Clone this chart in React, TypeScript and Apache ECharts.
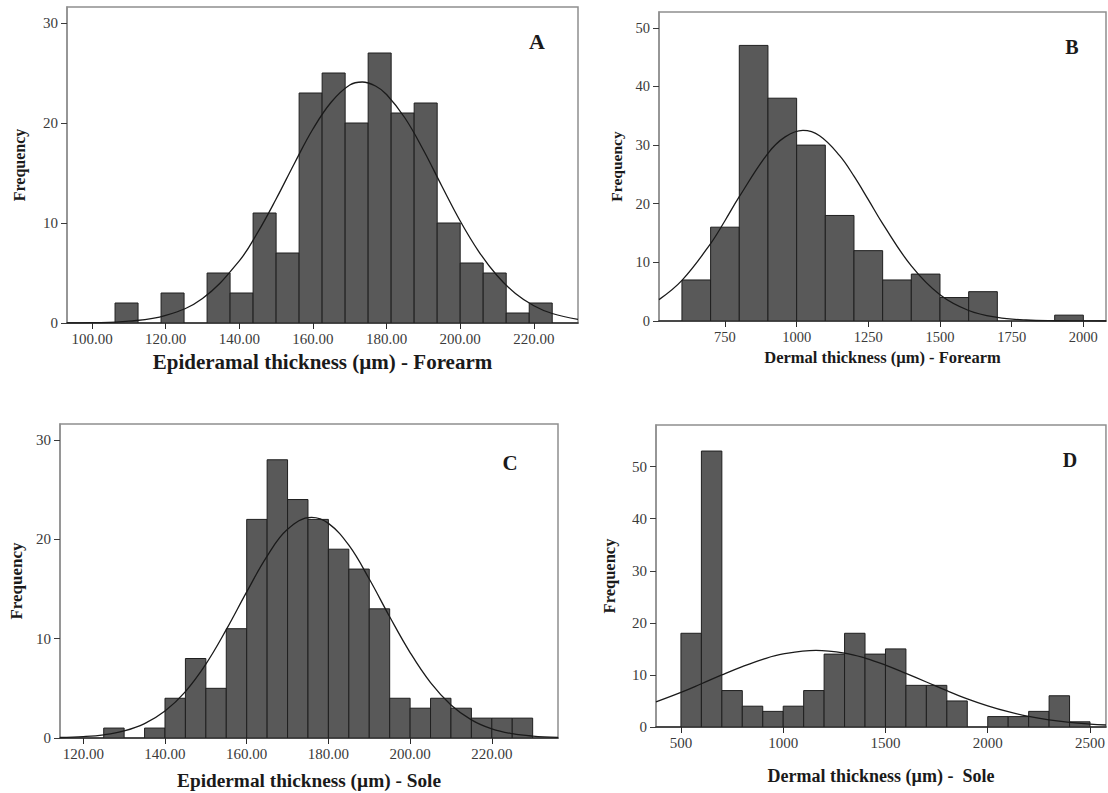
import React, { useEffect, useRef } from "react";
import * as echarts from "echarts";

// ---------- Panel A : Epidermal thickness - Forearm ----------
const aBinStarts = [106.25, 112.5, 118.75, 125, 131.25, 137.5, 143.75, 150, 156.25, 162.5, 168.75, 175, 181.25, 187.5, 193.75, 200, 206.25, 212.5, 218.75];
const aCounts = [2, 0, 3, 0, 5, 3, 11, 7, 23, 25, 20, 27, 21, 22, 10, 6, 5, 1, 2];
const aBinWidth = 6.25;
const aCurveX = [93.2, 100, 110, 120, 130, 140, 145, 150, 155, 160, 165, 170, 173.4, 177, 180, 185, 190, 195, 200, 205, 210, 215, 220, 225, 232];
const aCurveY = [0.01, 0.03, 0.18, 0.76, 2.45, 6.22, 9.06, 12.4, 15.98, 19.4, 22.1, 23.8, 24.1, 23.7, 22.85, 20.5, 17.3, 13.7, 10.2, 7.17, 4.75, 2.95, 1.73, 0.95, 0.37];
const aXTicks = [100, 120, 140, 160, 180, 200, 220];
const aYTicks = [0, 10, 20, 30];

// ---------- Panel B : Dermal thickness - Forearm ----------
const bBinStarts = [600, 700, 800, 900, 1000, 1100, 1200, 1300, 1400, 1500, 1600, 1700, 1800, 1900];
const bCounts = [7, 16, 47, 38, 30, 18, 12, 7, 8, 4, 5, 0, 0, 1];
const bBinWidth = 100;
const bCurveX = [520, 600, 700, 750, 800, 900, 960, 1022, 1080, 1150, 1200, 1250, 1300, 1400, 1500, 1600, 1700, 1800, 1900, 2000, 2079];
const bCurveY = [3.65, 6.93, 13.2, 17.1, 21.2, 28.6, 31.4, 32.5, 31.6, 28.2, 24.7, 20.7, 16.6, 9.4, 4.47, 1.79, 0.6, 0.17, 0.04, 0.01, 0.0];
const bXTicks = [750, 1000, 1250, 1500, 1750, 2000];
const bYTicks = [0, 10, 20, 30, 40, 50];

// ---------- Panel C : Epidermal thickness - Sole ----------
const cBinStarts = [125, 130, 135, 140, 145, 150, 155, 160, 165, 170, 175, 180, 185, 190, 195, 200, 205, 210, 215, 220, 225];
const cCounts = [1, 0, 1, 4, 8, 5, 11, 22, 28, 24, 22, 19, 17, 13, 4, 3, 4, 3, 2, 2, 2];
const cBinWidth = 5;
const cCurveX = [114.3, 120, 125, 130, 135, 140, 145, 150, 155, 160, 165, 170, 175.9, 180, 185, 190, 195, 200, 205, 210, 215, 220, 225, 230, 236.2];
const cCurveY = [0.05, 0.14, 0.32, 0.71, 1.45, 2.71, 4.67, 7.43, 10.9, 14.7, 18.3, 21.0, 22.2, 21.6, 19.4, 16.0, 12.2, 8.6, 5.57, 3.33, 1.83, 0.92, 0.43, 0.19, 0.06];
const cXTicks = [120, 140, 160, 180, 200, 220];
const cYTicks = [0, 10, 20, 30];

// ---------- Panel D : Dermal thickness - Sole ----------
const dBinStarts = [500, 600, 700, 800, 900, 1000, 1100, 1200, 1300, 1400, 1500, 1600, 1700, 1800, 1900, 2000, 2100, 2200, 2300, 2400];
const dCounts = [18, 53, 7, 4, 3, 4, 7, 14, 18, 14, 15, 8, 8, 5, 0, 2, 2, 3, 6, 1];
const dBinWidth = 100;
const dCurveX = [378, 500, 600, 700, 800, 900, 1000, 1160, 1300, 1400, 1500, 1600, 1700, 1800, 1900, 2000, 2100, 2200, 2300, 2400, 2500, 2578];
const dCurveY = [4.83, 6.65, 8.31, 10.0, 11.6, 13.0, 14.03, 14.7, 14.19, 13.24, 11.9, 10.3, 8.64, 6.97, 5.42, 4.07, 2.94, 2.05, 1.38, 0.89, 0.56, 0.38];
const dXTicks = [500, 1000, 1500, 2000, 2500];
const dYTicks = [0, 10, 20, 30, 40, 50];

const FONT = "'Liberation Serif', 'Times New Roman', serif";

type Panel = {
  letter: string;
  xName: string;
  grid: { left: number; top: number; width: number; height: number };
  xMin: number; xMax: number; yMax: number;
  xTicks: number[]; yTicks: number[]; decimals: number;
  binStarts: number[]; counts: number[]; binWidth: number;
  curveX: number[]; curveY: number[];
  tickFont: number; nameFont: number; nameGap: number;
  yNameFont: number; yNameGap: number;
  letterPos: [number, number]; letterFont: number;
};

const panels: Panel[] = [
  {
    letter: "A", xName: "Epideramal thickness (µm) - Forearm",
    grid: { left: 67, top: 7, width: 511, height: 316 },
    xMin: 93.2, xMax: 232, yMax: 31.6, xTicks: aXTicks, yTicks: aYTicks, decimals: 2,
    binStarts: aBinStarts, counts: aCounts, binWidth: aBinWidth, curveX: aCurveX, curveY: aCurveY,
    tickFont: 15, nameFont: 21, nameGap: 28, yNameFont: 16, yNameGap: 40,
    letterPos: [537, 41], letterFont: 22,
  },
  {
    letter: "B", xName: "Dermal thickness (µm) - Forearm",
    grid: { left: 659, top: 12, width: 447, height: 309 },
    xMin: 520, xMax: 2079, yMax: 52.7, xTicks: bXTicks, yTicks: bYTicks, decimals: 0,
    binStarts: bBinStarts, counts: bCounts, binWidth: bBinWidth, curveX: bCurveX, curveY: bCurveY,
    tickFont: 14.5, nameFont: 16.5, nameGap: 28, yNameFont: 15.5, yNameGap: 35,
    letterPos: [1072, 47], letterFont: 20,
  },
  {
    letter: "C", xName: "Epidermal thickness (µm) - Sole",
    grid: { left: 60, top: 424, width: 498, height: 314 },
    xMin: 114.3, xMax: 236.2, yMax: 31.6, xTicks: cXTicks, yTicks: cYTicks, decimals: 2,
    binStarts: cBinStarts, counts: cCounts, binWidth: cBinWidth, curveX: cCurveX, curveY: cCurveY,
    tickFont: 15, nameFont: 19.3, nameGap: 33, yNameFont: 17, yNameGap: 35,
    letterPos: [510, 463], letterFont: 21,
  },
  {
    letter: "D", xName: "Dermal thickness (µm) -  Sole",
    grid: { left: 656, top: 425, width: 451, height: 302 },
    xMin: 378, xMax: 2578, yMax: 58, xTicks: dXTicks, yTicks: dYTicks, decimals: 0,
    binStarts: dBinStarts, counts: dCounts, binWidth: dBinWidth, curveX: dCurveX, curveY: dCurveY,
    tickFont: 15, nameFont: 18, nameGap: 40, yNameFont: 16.5, yNameGap: 38,
    letterPos: [1070, 460], letterFont: 20,
  },
];

function buildOption() {
  const grids: any[] = [];
  const xAxes: any[] = [];
  const yAxes: any[] = [];
  const series: any[] = [];
  const graphics: any[] = [];

  panels.forEach((p, i) => {
    grids.push({
      ...p.grid,
      show: true,
      borderColor: "#8f8f8f",
      borderWidth: 1.5,
      backgroundColor: "#ffffff",
      containLabel: false,
    });
    xAxes.push({
      type: "value",
      gridIndex: i,
      min: p.xMin,
      max: p.xMax,
      name: p.xName,
      nameLocation: "middle",
      nameGap: p.nameGap,
      nameTextStyle: { fontFamily: FONT, fontWeight: "bold", fontSize: p.nameFont, color: "#1a1a1a" },
      axisLine: { show: true, onZero: false, lineStyle: { color: "#2a2a2a", width: 1.5 } },
      axisTick: { show: true, customValues: p.xTicks, length: 6, lineStyle: { color: "#2a2a2a", width: 1 } },
      axisLabel: {
        customValues: p.xTicks,
        margin: 8,
        fontFamily: FONT,
        fontSize: p.tickFont,
        color: "#3a3a3a",
        formatter: (v: number) => v.toFixed(p.decimals),
      },
      splitLine: { show: false },
    });
    yAxes.push({
      type: "value",
      gridIndex: i,
      min: 0,
      max: p.yMax,
      name: "Frequency",
      nameLocation: "middle",
      nameRotate: 90,
      nameGap: p.yNameGap,
      nameTextStyle: { fontFamily: FONT, fontWeight: "bold", fontSize: p.yNameFont, color: "#1a1a1a" },
      axisLine: { show: true, lineStyle: { color: "#8f8f8f", width: 1.5 } },
      axisTick: { show: true, customValues: p.yTicks, length: 6, lineStyle: { color: "#3a3a3a", width: 1 } },
      axisLabel: {
        customValues: p.yTicks,
        margin: 9,
        fontFamily: FONT,
        fontSize: p.tickFont,
        color: "#3a3a3a",
      },
      splitLine: { show: false },
    });
    const binData = p.binStarts.map((s, k) => [s, s + p.binWidth, p.counts[k]]);
    series.push({
      type: "custom",
      xAxisIndex: i,
      yAxisIndex: i,
      data: binData,
      encode: { x: [0, 1], y: 2 },
      clip: true,
      renderItem: (params: any, api: any) => {
        const x0 = api.value(0);
        const x1 = api.value(1);
        const y = api.value(2);
        if (!y) return null;
        const pTop = api.coord([x0, y]);
        const pBot = api.coord([x1, 0]);
        return {
          type: "rect",
          shape: { x: pTop[0], y: pTop[1], width: pBot[0] - pTop[0], height: pBot[1] - pTop[1] },
          style: { fill: "#595959", stroke: "#1f1f1f", lineWidth: 1 },
        };
      },
    });
    series.push({
      type: "line",
      xAxisIndex: i,
      yAxisIndex: i,
      data: p.curveX.map((x, k) => [x, p.curveY[k]]),
      smooth: 0.4,
      showSymbol: false,
      symbol: "none",
      clip: true,
      lineStyle: { color: "#1a1a1a", width: 1.3 },
      z: 5,
    });
    graphics.push({
      type: "text",
      x: p.letterPos[0],
      y: p.letterPos[1],
      style: {
        text: p.letter,
        fontFamily: FONT,
        fontWeight: "bold",
        fontSize: p.letterFont,
        fill: "#1a1a1a",
        align: "center",
        verticalAlign: "middle",
      },
      z: 10,
    });
  });

  return {
    animation: false,
    backgroundColor: "#ffffff",
    grid: grids,
    xAxis: xAxes,
    yAxis: yAxes,
    series,
    graphic: graphics,
  };
}

export default function App() {
  const ref = useRef<HTMLDivElement>(null);
  useEffect(() => {
    document.body.style.margin = "0";
    if (!ref.current) return;
    const chart = echarts.init(ref.current, undefined, { renderer: "svg" });
    chart.setOption(buildOption() as any);
    return () => chart.dispose();
  }, []);
  return <div ref={ref} style={{ width: 1108, height: 793 }} />;
}
